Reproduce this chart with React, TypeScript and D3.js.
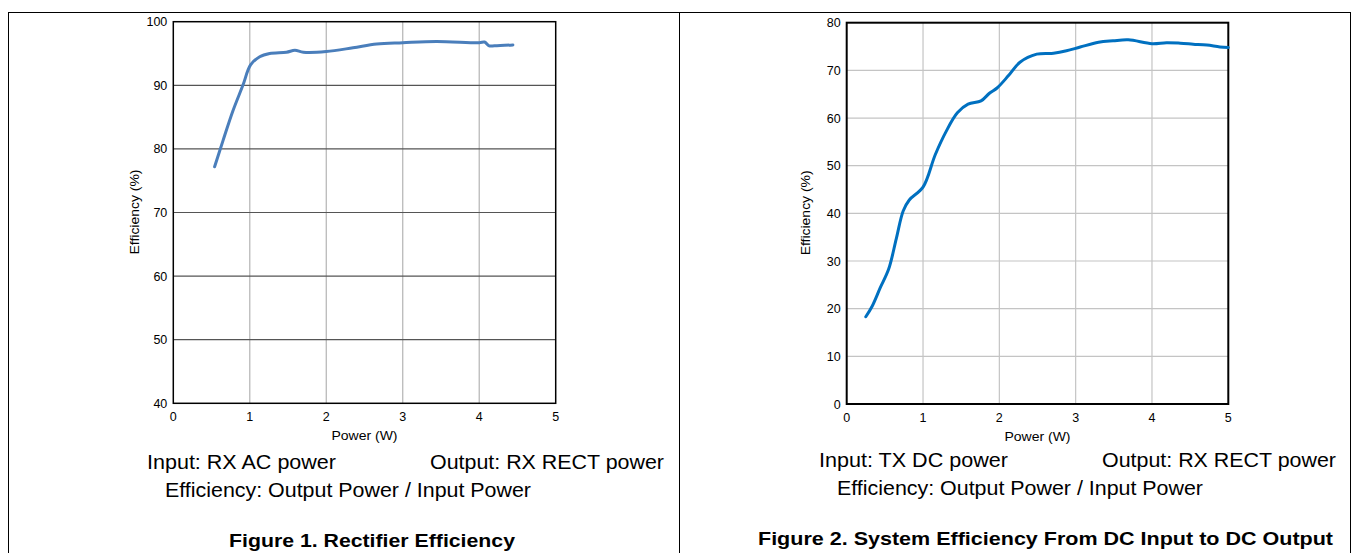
import * as d3 from 'd3';

// Figure 1: rectifier efficiency (RX AC -> RX RECT)
const rectPower = [0.54, 0.65, 0.78, 0.91, 1.01, 1.13, 1.26, 1.48, 1.59, 1.7, 2.0, 2.35, 2.66, 3.0, 3.44, 4.0, 4.07, 4.13, 4.2, 4.44];
const rectEff = [77.2, 81.3, 86.0, 90.0, 93.2, 94.5, 95.0, 95.2, 95.5, 95.2, 95.3, 95.9, 96.5, 96.7, 96.9, 96.7, 96.8, 96.2, 96.2, 96.35];

// Figure 2: system efficiency (TX DC -> RX RECT)
const sysPower = [0.25, 0.33, 0.44, 0.55, 0.65, 0.74, 0.82, 1.0, 1.16, 1.3, 1.45, 1.59, 1.76, 1.87, 1.97, 2.12, 2.27, 2.49, 2.71, 2.88, 3.06, 3.3, 3.49, 3.69, 4.0, 4.19, 4.37, 4.54, 4.72, 4.89, 5.0];
const sysEff = [18.3, 20.4, 24.4, 28.3, 34.7, 40.5, 42.8, 45.5, 52.3, 57.1, 61.1, 62.9, 63.6, 65.2, 66.3, 68.9, 71.7, 73.4, 73.6, 74.1, 74.9, 75.9, 76.2, 76.4, 75.6, 75.8, 75.7, 75.5, 75.3, 74.9, 74.8];

const xTicks = [0, 1, 2, 3, 4, 5];
const rectYTicks = [40, 50, 60, 70, 80, 90, 100];
const sysYTicks = [0, 10, 20, 30, 40, 50, 60, 70, 80];

const FONT = 'Arial, "Liberation Sans", sans-serif';

interface PanelProps {
  x0: number;
  x1: number;
  y0: number;
  y1: number;
  yDomain: [number, number];
  yTicks: number[];
  xs: number[];
  ys: number[];
  lineColor: string;
  hGrid: string;
  vGrid: string;
  frameWidth: number;
  yTitleX: number;
  captions: { text: string; x: number; y: number; len: number; size: number; bold?: boolean }[];
}

function Panel(p: PanelProps) {
  const x = d3.scaleLinear().domain([0, 5]).range([p.x0, p.x1]);
  const y = d3.scaleLinear().domain(p.yDomain).range([p.y1, p.y0]);
  const pts = p.xs.map((v, i) => [v, p.ys[i]] as [number, number]);
  const line = d3
    .line<[number, number]>()
    .x((d) => x(d[0]))
    .y((d) => y(d[1]))
    .curve(d3.curveCatmullRom.alpha(0.5));

  return (
    <g>
      {xTicks.slice(1, -1).map((t) => (
        <line key={'v' + t} x1={x(t)} x2={x(t)} y1={p.y0} y2={p.y1} stroke={p.vGrid} strokeWidth={1.2} />
      ))}
      {p.yTicks.slice(1, -1).map((t) => (
        <line key={'h' + t} x1={p.x0} x2={p.x1} y1={y(t)} y2={y(t)} stroke={p.hGrid} strokeWidth={1.2} />
      ))}
      <rect x={p.x0} y={p.y0} width={p.x1 - p.x0} height={p.y1 - p.y0} fill="none" stroke="#000" strokeWidth={p.frameWidth} />
      <path d={line(pts) || ''} fill="none" stroke={p.lineColor} strokeWidth={3} strokeLinejoin="round" strokeLinecap="round" />
      {p.yTicks.map((t) => (
        <text key={'yl' + t} x={p.x0 - 6} y={y(t) + 4.5} textAnchor="end" fontSize={12.5} fontFamily={FONT} fill="#000">
          {t}
        </text>
      ))}
      {xTicks.map((t) => (
        <text key={'xl' + t} x={x(t)} y={p.y1 + 18} textAnchor="middle" fontSize={12.5} fontFamily={FONT} fill="#000">
          {t}
        </text>
      ))}
      <text
        x={(p.x0 + p.x1) / 2 - 33}
        y={p.y1 + 37}
        fontSize={12}
        fontFamily={FONT}
        textLength={66}
        lengthAdjust="spacingAndGlyphs"
        fill="#000"
      >
        Power (W)
      </text>
      <text
        transform={`translate(${p.yTitleX},${(p.y0 + p.y1) / 2 + 42}) rotate(-90)`}
        fontSize={12}
        fontFamily={FONT}
        textLength={85}
        lengthAdjust="spacingAndGlyphs"
        fill="#000"
      >
        Efficiency (%)
      </text>
      {p.captions.map((c) => (
        <text
          key={c.text}
          x={c.x}
          y={c.y}
          fontSize={c.size}
          fontWeight={c.bold ? 'bold' : 'normal'}
          fontFamily={FONT}
          textLength={c.len}
          lengthAdjust="spacingAndGlyphs"
          fill="#000"
        >
          {c.text}
        </text>
      ))}
    </g>
  );
}

export default function App() {
  return (
    <svg width={1353} height={553} style={{ position: 'absolute', left: 0, top: 0, background: '#fff' }}>
      <rect x={0} y={0} width={1353} height={553} fill="#fff" />
      <line x1={8} x2={1351} y1={12.5} y2={12.5} stroke="#000" strokeWidth={1} />
      <line x1={8.5} x2={8.5} y1={12} y2={553} stroke="#000" strokeWidth={1} />
      <line x1={679.5} x2={679.5} y1={12} y2={553} stroke="#000" strokeWidth={1} />
      <line x1={1350.5} x2={1350.5} y1={12} y2={553} stroke="#000" strokeWidth={1} />
      <Panel
        x0={173.3}
        x1={555.7}
        y0={21.7}
        y1={403.3}
        yDomain={[40, 100]}
        yTicks={rectYTicks}
        xs={rectPower}
        ys={rectEff}
        lineColor="#4a7ebb"
        hGrid="#555"
        vGrid="#b4b4b4"
        frameWidth={1.5}
        yTitleX={139}
        captions={[
          { text: 'Input: RX AC power', x: 147, y: 469, len: 189, size: 20 },
          { text: 'Output: RX RECT power', x: 430, y: 469, len: 234, size: 20 },
          { text: 'Efficiency: Output Power / Input Power', x: 165, y: 497, len: 366, size: 20 },
          { text: 'Figure 1. Rectifier Efficiency', x: 229, y: 547, len: 286, size: 19, bold: true },
        ]}
      />
      <Panel
        x0={846.7}
        x1={1228.3}
        y0={22.7}
        y1={404}
        yDomain={[0, 80]}
        yTicks={sysYTicks}
        xs={sysPower}
        ys={sysEff}
        lineColor="#0070c0"
        hGrid="#c4c4c4"
        vGrid="#c4c4c4"
        frameWidth={2}
        yTitleX={810}
        captions={[
          { text: 'Input: TX DC power', x: 819, y: 467, len: 189, size: 20 },
          { text: 'Output: RX RECT power', x: 1102, y: 467, len: 234, size: 20 },
          { text: 'Efficiency: Output Power / Input Power', x: 837, y: 495, len: 366, size: 20 },
          { text: 'Figure 2. System Efficiency From DC Input to DC Output', x: 758, y: 545, len: 575, size: 19, bold: true },
        ]}
      />
    </svg>
  );
}
